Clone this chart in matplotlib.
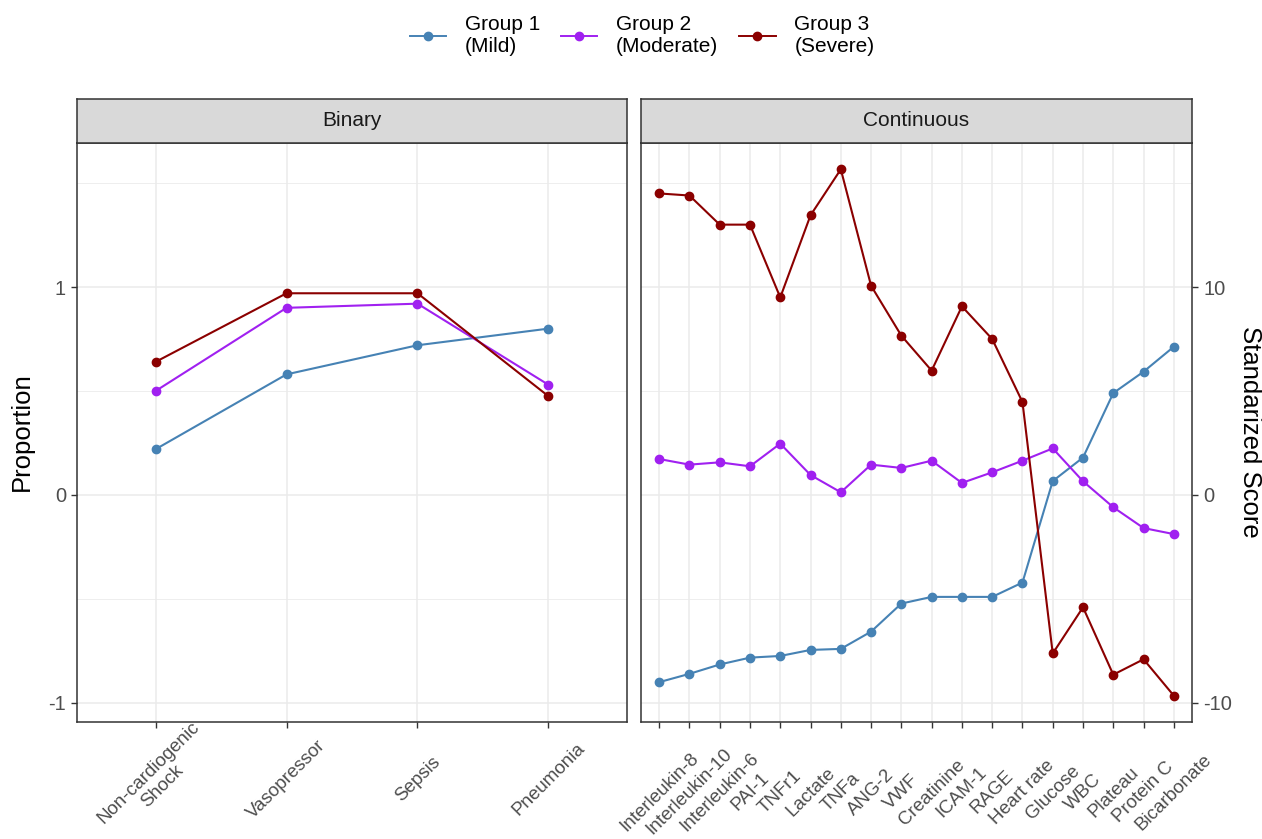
import numpy as np
import matplotlib.pyplot as plt
from matplotlib.lines import Line2D

plt.rcParams['font.family'] = ['Liberation Sans', 'DejaVu Sans']

# Binary panel (proportions)
binary_vars = ['Non-cardiogenic\nShock', 'Vasopressor', 'Sepsis', 'Pneumonia']
binary_g1 = [0.22, 0.58, 0.72, 0.80]
binary_g2 = [0.50, 0.90, 0.92, 0.53]
binary_g3 = [0.64, 0.97, 0.97, 0.475]

# Continuous panel (standardized scores)
cont_vars = ['Interleukin-8', 'Interleukin-10', 'Interleukin-6', 'PAI-1', 'TNFr1',
             'Lactate', 'TNFa', 'ANG-2', 'VWF', 'Creatinine', 'ICAM-1', 'RAGE',
             'Heart rate', 'Glucose', 'WBC', 'Plateau', 'Protein C', 'Bicarbonate']
cont_g1 = [-9.0, -8.6, -8.15, -7.82, -7.74, -7.45, -7.4, -6.57, -5.22, -4.9,
           -4.9, -4.9, -4.21, 0.67, 1.8, 4.9, 5.93, 7.13]
cont_g2 = [1.73, 1.46, 1.57, 1.38, 2.47, 0.96, 0.13, 1.46, 1.30, 1.65,
           0.58, 1.09, 1.65, 2.24, 0.66, -0.59, -1.59, -1.88]
cont_g3 = [14.5, 14.4, 13.0, 13.0, 9.5, 13.45, 15.66, 10.06, 7.66, 5.98,
           9.07, 7.5, 4.47, -7.62, -5.4, -8.64, -7.9, -9.65]

group_labels = ['Group 1\n(Mild)', 'Group 2\n(Moderate)', 'Group 3\n(Severe)']
group_colors = ['#4682B4', '#A020F0', '#8B0000']

W, H = 1262, 839
fig = plt.figure(figsize=(W / 100, H / 100), dpi=100)

# shared y scale: continuous values are plotted on a /10 scale
allv = binary_g1 + binary_g2 + binary_g3 + [v / 10 for v in cont_g1 + cont_g2 + cont_g3]
lo, hi = min(allv), max(allv)
span = hi - lo
ylim = (lo - 0.05 * span, hi + 0.05 * span)

ax1 = fig.add_axes([77 / W, 117 / H, 550 / W, 579 / H])
ax2 = fig.add_axes([641 / W, 117 / H, 551 / W, 579 / H])

def style_panel(ax, labels, yt, ymt, lim, pad):
    ax.set_facecolor('white')
    ax.set_axisbelow(True)
    ax.set_xticks(np.arange(len(labels)))
    ax.set_xticklabels(labels, rotation=45, ha='center', va='center',
                       rotation_mode='anchor', multialignment='center',
                       fontsize=13.5)
    ax.set_xlim(-0.6, len(labels) - 0.4)
    ax.set_yticks(yt)
    ax.set_yticks(ymt, minor=True)
    ax.set_ylim(*lim)
    ax.grid(which='major', color='#EBEBEB', lw=1.1)
    ax.grid(which='minor', axis='y', color='#EBEBEB', lw=0.6)
    ax.tick_params(which='minor', length=0)
    ax.tick_params(which='major', length=4.5, width=1.0, color='#333333',
                   labelcolor='#4D4D4D')
    ax.tick_params(axis='y', labelsize=14.5)
    ax.tick_params(axis='x', pad=pad)
    for s in ax.spines.values():
        s.set_color('#333333')
        s.set_linewidth(1.1)

style_panel(ax1, binary_vars, [-1, 0, 1], [-0.5, 0.5, 1.5], ylim, 37)
style_panel(ax2, cont_vars, [-10, 0, 10], [-5, 5, 15], (ylim[0] * 10, ylim[1] * 10), 46)
ax1.set_yticklabels(['-1', '0', '1'])
ax2.set_yticklabels(['-10', '0', '10'])
ax2.yaxis.tick_right()
ax2.tick_params(which='minor', length=0)

for vals, col in zip([binary_g1, binary_g2, binary_g3], group_colors):
    ax1.plot(range(len(binary_vars)), vals, color=col, lw=1.5, marker='o', ms=6)
for vals, col in zip([cont_g1, cont_g2, cont_g3], group_colors):
    ax2.plot(range(len(cont_vars)), vals, color=col, lw=1.5, marker='o', ms=6)

# facet strips
for x0, w, title in [(77, 550, 'Binary'), (641, 551, 'Continuous')]:
    sax = fig.add_axes([x0 / W, (H - 143) / H, w / W, 44 / H])
    sax.set_facecolor('#D9D9D9')
    sax.set_xticks([])
    sax.set_yticks([])
    for s in sax.spines.values():
        s.set_color('#333333')
        s.set_linewidth(1.1)
    sax.text(0.5, 0.5, title, ha='center', va='center', fontsize=15,
             color='#1A1A1A', transform=sax.transAxes)

fig.text(22 / W, 1 - 432 / H, 'Proportion', rotation=90, ha='center', va='center',
         fontsize=18.5, color='black')
fig.text(1250 / W, 1 - 432 / H, 'Standarized Score', rotation=270, ha='center',
         va='center', fontsize=18.5, color='black')

handles = [Line2D([0], [0], color=c, lw=1.4, marker='o', ms=6) for c in group_colors]
fig.legend(handles, group_labels, loc='center', bbox_to_anchor=(642 / W, 1 - 36 / H),
           ncol=3, frameon=False, fontsize=15, handlelength=1.75,
           handletextpad=0.9, columnspacing=1.0)

fig.savefig('out.png', dpi=100)
